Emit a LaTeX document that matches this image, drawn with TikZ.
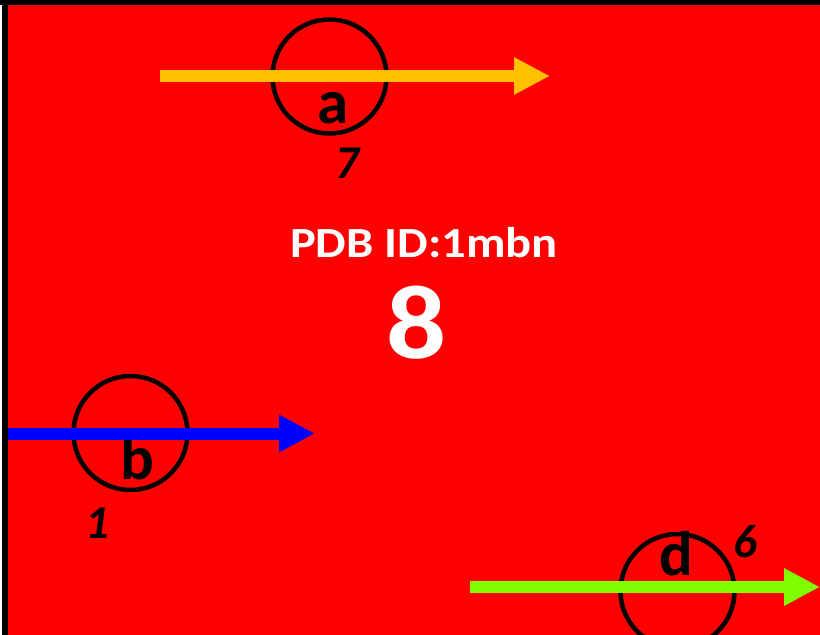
\documentclass[tikz,border=0pt]{standalone}
\usepackage{fontspec}
\setmainfont{Carlito}
\newfontfamily\widefont[FakeStretch=1.13]{Carlito}
\usetikzlibrary{arrows.meta}
\definecolor{bgred}{HTML}{FF0000}
\definecolor{ayellow}{HTML}{FFC000}
\definecolor{bblue}{HTML}{0000FF}
\definecolor{dgreen}{HTML}{80FF00}
\tikzset{
  ring/.style={circle,draw=black,line width=4.5pt,minimum size=114pt,inner sep=0pt},
  vec/.style={line width=12pt,-{Triangle[length=36pt,width=35pt]}},
  letter/.style={inner sep=0pt,anchor=base,font=\fontsize{63}{63}\selectfont\bfseries},
  num/.style={inner sep=0pt,anchor=base,font=\fontsize{47}{47}\selectfont\bfseries\itshape},
}
\begin{document}
\begin{tikzpicture}[x=1pt,y=-1pt]
\useasboundingbox (0,0) rectangle (820,635);
\fill[white] (0,0) rectangle (820,635);
\fill[bgred] (8,5) rectangle (820,635);
\fill[black] (0,0) rectangle (820,5);
\fill[black] (2,0) rectangle (8,635);
% a
\node[ring] (ca) at (329.5,76.5) {};
\node[letter] (la) at (333,123) {a};
\coordinate (a1) at (160,76);
\coordinate (a2) at (550,76);
\draw[vec,ayellow] (a1) -- (a2);
\node[num] (n7) at (347,178) {7};
% b
\node[ring] (cb) at (130.5,433) {};
\node[letter] (lb) at (137,479) {b};
\coordinate (b1) at (8,433.5);
\coordinate (b2) at (315,433.5);
\draw[vec,bblue] (b1) -- (b2);
\node[num] (n1) at (97,538) {1};
% d
\node[ring] (cd) at (677.5,591) {};
\node[letter] (ld) at (676,575) {d};
\coordinate (d1) at (470,587);
\coordinate (d2) at (820,587);
\draw[vec,dgreen] (d1) -- (d2);
\node[num] (n6) at (745.5,557) {6};
% center text
\node[inner sep=0pt,anchor=base,text=white,font=\fontsize{43}{43}\widefont\bfseries] (pdb) at (424,257) {PDB ID:1mbn};
\node[inner sep=0pt,anchor=base,text=white,font=\fontsize{105}{105}\widefont\bfseries] (eight) at (416.5,358) {8};
\end{tikzpicture}
\end{document}
